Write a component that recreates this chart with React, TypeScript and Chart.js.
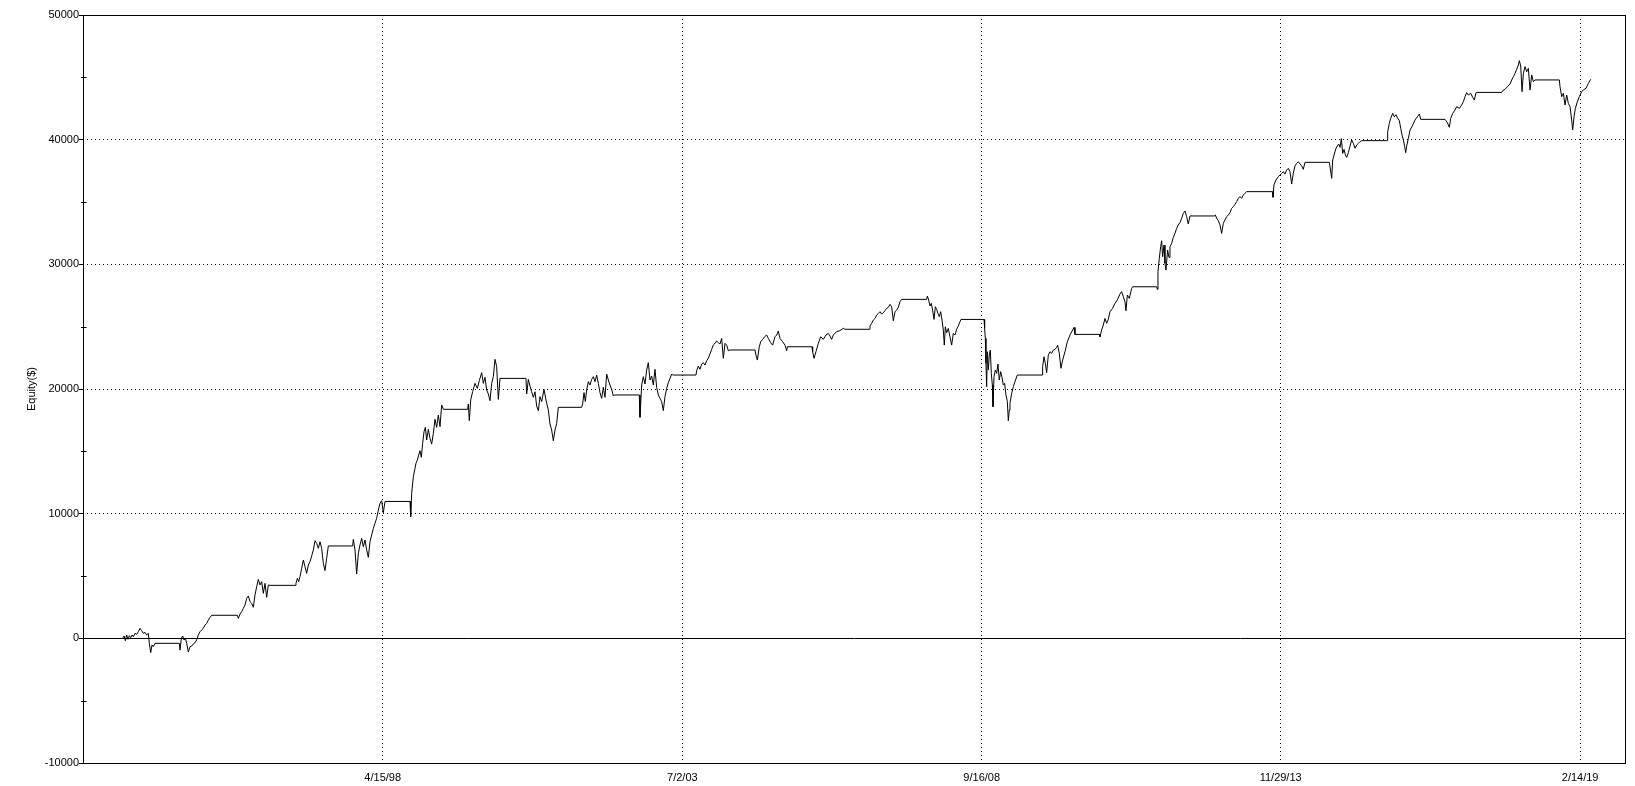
import { useEffect, useRef } from "react";
import { Chart, registerables } from "chart.js";

Chart.register(...registerables);

// X axis: decimal years, tick dates shown as m/d/yy
const xTickYears = [1998.285, 2003.499, 2008.708, 2013.91, 2019.121];
const xTickLabels = ["4/15/98", "7/2/03", "9/16/08", "11/29/13", "2/14/19"];
const xMin = 1993.07;
const xMax = 2019.919;

// Y axis
const yMin = -10000;
const yMax = 50000;
const yLabelStep = 10000;
const yMinorStep = 5000;
const yAxisTitle = "Equity($)";

// Equity curve: [decimal year, equity $]
const equityCurve: [number, number][] = [
  [1993.76, 0], [1993.784, 190], [1993.807, -190], [1993.83, 270], [1993.853, -80],
  [1993.876, 210], [1993.9, 50], [1993.923, 270], [1993.946, 130], [1993.975, 400],
  [1994.004, 320], [1994.033, 530], [1994.062, 800], [1994.091, 620], [1994.12, 400],
  [1994.149, 480], [1994.178, 270], [1994.207, 400], [1994.224, -400], [1994.248, -1150],
  [1994.271, -530], [1994.294, -670], [1994.323, -400], [1994.746, -400], [1994.758, -940],
  [1994.781, 0], [1994.804, 190], [1994.828, -130], [1994.851, 0], [1994.874, -400],
  [1994.903, -1100], [1994.932, -670], [1994.961, -620], [1994.99, -450], [1995.019, -350],
  [1995.048, -130], [1995.077, 270], [1995.106, 530], [1995.135, 670], [1995.164, 800],
  [1995.193, 1070], [1995.222, 1200], [1995.251, 1470], [1995.28, 1680], [1995.309, 1850],
  [1995.756, 1850], [1995.773, 1600], [1995.802, 1950], [1995.831, 2140], [1995.86, 2410],
  [1995.889, 2670], [1995.918, 3210], [1995.947, 3400], [1995.976, 2940], [1996.005, 2810],
  [1996.034, 2490], [1996.063, 3480], [1996.092, 4140], [1996.121, 4730], [1996.15, 4280],
  [1996.179, 4550], [1996.208, 3610], [1996.237, 4410], [1996.266, 3290], [1996.295, 4280],
  [1996.324, 4250], [1996.759, 4250], [1996.776, 4410], [1996.8, 4810], [1996.823, 4550],
  [1996.846, 4950], [1996.875, 5620], [1996.904, 6280], [1996.933, 5750], [1996.962, 5210],
  [1996.991, 5880], [1997.02, 6150], [1997.049, 6600], [1997.078, 7090], [1997.107, 7830],
  [1997.136, 7620], [1997.165, 7220], [1997.194, 7750], [1997.223, 7220], [1997.252, 6020],
  [1997.281, 5430], [1997.31, 6420], [1997.339, 7410], [1997.762, 7410], [1997.774, 7940],
  [1997.803, 7090], [1997.832, 5160], [1997.861, 6820], [1997.89, 7490], [1997.919, 8020],
  [1997.948, 7350], [1997.977, 7890], [1998.006, 7090], [1998.035, 6500], [1998.064, 7750],
  [1998.093, 8290], [1998.122, 8820], [1998.151, 9230], [1998.18, 9630], [1998.209, 10290],
  [1998.238, 10830], [1998.267, 11040], [1998.296, 10080], [1998.325, 10980], [1998.76, 10980],
  [1998.772, 9760], [1998.789, 11630], [1998.818, 12960], [1998.841, 13500], [1998.864, 14040],
  [1998.888, 14300], [1998.911, 14700], [1998.934, 15050], [1998.957, 14520], [1998.98, 15640],
  [1999.004, 16580], [1999.027, 16920], [1999.05, 15910], [1999.079, 16760], [1999.108, 16040],
  [1999.137, 15580], [1999.166, 16440], [1999.195, 17570], [1999.224, 16920], [1999.253, 17910],
  [1999.282, 16980], [1999.311, 18720], [1999.34, 18370], [1999.763, 18370], [1999.775, 18800],
  [1999.792, 17460], [1999.816, 19120], [1999.85, 19790], [1999.891, 20450], [1999.932, 20050],
  [1999.966, 20670], [2000.007, 21310], [2000.036, 20450], [2000.065, 20940], [2000.094, 19920],
  [2000.123, 19600], [2000.152, 19060], [2000.181, 20450], [2000.21, 20990], [2000.239, 22380],
  [2000.268, 21790], [2000.297, 19170], [2000.326, 20850], [2000.778, 20850], [2000.79, 19600],
  [2000.819, 20770], [2000.848, 20240], [2000.877, 19780], [2000.906, 19330], [2000.935, 19780],
  [2000.964, 18630], [2000.993, 18260], [2001.022, 19390], [2001.051, 18990], [2001.092, 19970],
  [2001.126, 19120], [2001.167, 18310], [2001.196, 17190], [2001.225, 16710], [2001.254, 15850],
  [2001.283, 16710], [2001.312, 17240], [2001.341, 18530], [2001.747, 18530], [2001.764, 18800],
  [2001.788, 19710], [2001.811, 18990], [2001.834, 19920], [2001.863, 20590], [2001.892, 20320],
  [2001.921, 20770], [2001.95, 20990], [2001.979, 20590], [2002.008, 21120], [2002.037, 20450],
  [2002.066, 19710], [2002.095, 19250], [2002.124, 20130], [2002.153, 19330], [2002.182, 21200],
  [2002.211, 20720], [2002.24, 20320], [2002.269, 19970], [2002.298, 19440], [2002.315, 19520],
  [2002.75, 19520], [2002.762, 17730], [2002.791, 20320], [2002.82, 20990], [2002.849, 20400],
  [2002.878, 21520], [2002.907, 22110], [2002.936, 20720], [2002.965, 21040], [2002.994, 20320],
  [2003.023, 21580], [2003.052, 20130], [2003.081, 19520], [2003.11, 19250], [2003.139, 18990],
  [2003.168, 18260], [2003.197, 19390], [2003.226, 20050], [2003.255, 20510], [2003.284, 20850],
  [2003.313, 21200], [2003.33, 21120], [2003.736, 21120], [2003.748, 21470], [2003.777, 21840],
  [2003.806, 21580], [2003.835, 22000], [2003.864, 22110], [2003.893, 21920], [2003.922, 22270],
  [2003.951, 22460], [2003.98, 22810], [2004.009, 23180], [2004.038, 23530], [2004.067, 23660],
  [2004.096, 23850], [2004.125, 23720], [2004.154, 23610], [2004.183, 24060], [2004.212, 22460],
  [2004.241, 23660], [2004.27, 23520], [2004.299, 23070], [2004.328, 23130], [2004.763, 23130],
  [2004.78, 22720], [2004.804, 22320], [2004.838, 23390], [2004.862, 23790], [2004.896, 23980],
  [2004.931, 24190], [2004.966, 24330], [2004.995, 24060], [2005.036, 23710], [2005.07, 23520],
  [2005.111, 24190], [2005.14, 24330], [2005.169, 24650], [2005.198, 24060], [2005.244, 23790],
  [2005.285, 23520], [2005.314, 23070], [2005.326, 23390], [2005.755, 23390], [2005.766, 22990],
  [2005.79, 22460], [2005.824, 22990], [2005.865, 23660], [2005.906, 24190], [2005.952, 23980],
  [2005.998, 24330], [2006.039, 24460], [2006.068, 24250], [2006.097, 23980], [2006.126, 24330],
  [2006.184, 24600], [2006.242, 24680], [2006.3, 24870], [2006.329, 24790], [2006.752, 24790],
  [2006.764, 25050], [2006.793, 25260], [2006.822, 25530], [2006.851, 25660], [2006.88, 25930],
  [2006.909, 26060], [2006.938, 26200], [2006.967, 26010], [2006.996, 26120], [2007.025, 26280],
  [2007.054, 26470], [2007.083, 26550], [2007.112, 26790], [2007.141, 26600], [2007.17, 25480],
  [2007.199, 26200], [2007.228, 26330], [2007.257, 26550], [2007.286, 27000], [2007.315, 27190],
  [2007.75, 27190], [2007.762, 27460], [2007.785, 27140], [2007.808, 26660], [2007.831, 26870],
  [2007.854, 26330], [2007.878, 25580], [2007.901, 26600], [2007.924, 26390], [2007.947, 26060],
  [2007.97, 25800], [2007.994, 26200], [2008.017, 25530], [2008.04, 24730], [2008.057, 23520],
  [2008.075, 24990], [2008.098, 24510], [2008.127, 24860], [2008.156, 24190], [2008.185, 23520],
  [2008.214, 24460], [2008.243, 24330], [2008.272, 24790], [2008.301, 25050], [2008.33, 25400],
  [2008.347, 25580], [2008.748, 25580], [2008.759, 24860], [2008.771, 24060], [2008.782, 22060],
  [2008.794, 20190], [2008.806, 22990], [2008.823, 21520], [2008.84, 22720], [2008.858, 23120],
  [2008.875, 21260], [2008.893, 20320], [2008.904, 18580], [2008.922, 20990], [2008.945, 21520],
  [2008.968, 21260], [2008.991, 22000], [2009.014, 20720], [2009.038, 21390], [2009.061, 20930],
  [2009.084, 20320], [2009.107, 20450], [2009.13, 19520], [2009.154, 18990], [2009.171, 17450],
  [2009.188, 18310], [2009.2, 18850], [2009.229, 19650], [2009.258, 20180], [2009.287, 20590],
  [2009.328, 21120], [2009.763, 21120], [2009.768, 21790], [2009.792, 22590], [2009.815, 22050],
  [2009.838, 21310], [2009.867, 22720], [2009.896, 22990], [2009.925, 22860], [2009.954, 23120],
  [2009.983, 23180], [2010.012, 23340], [2010.029, 23520], [2010.058, 22860], [2010.087, 21660],
  [2010.116, 22320], [2010.157, 22990], [2010.198, 23790], [2010.244, 24330], [2010.29, 24730],
  [2010.314, 24940], [2010.331, 24380], [2010.754, 24380], [2010.766, 24190], [2010.795, 24730],
  [2010.824, 25130], [2010.853, 25660], [2010.882, 25270], [2010.911, 25590], [2010.94, 26200],
  [2010.986, 26470], [2011.027, 26870], [2011.068, 27140], [2011.114, 27620], [2011.143, 27810],
  [2011.172, 27400], [2011.201, 27000], [2011.218, 26280], [2011.242, 27540], [2011.276, 27270],
  [2011.317, 28070], [2011.334, 28200], [2011.752, 28200], [2011.764, 27990], [2011.775, 29410],
  [2011.798, 30480], [2011.822, 31410], [2011.839, 31890], [2011.856, 30610], [2011.88, 31540],
  [2011.897, 30080], [2011.914, 29540], [2011.943, 31140], [2011.967, 30550], [2011.984, 31410],
  [2012.013, 31680], [2012.042, 32160], [2012.071, 32480], [2012.1, 32890], [2012.129, 33160],
  [2012.158, 33340], [2012.187, 33690], [2012.216, 34090], [2012.245, 34280], [2012.274, 33820],
  [2012.303, 33240], [2012.332, 33880], [2012.755, 33880], [2012.773, 33960], [2012.796, 33690],
  [2012.825, 33500], [2012.854, 33160], [2012.883, 32480], [2012.912, 33290], [2012.941, 33560],
  [2012.97, 33820], [2012.999, 33960], [2013.028, 34150], [2013.057, 34490], [2013.086, 34630],
  [2013.115, 34810], [2013.144, 35030], [2013.173, 35290], [2013.202, 35430], [2013.231, 35290],
  [2013.26, 35560], [2013.289, 35700], [2013.318, 35830], [2013.77, 35830], [2013.776, 35380],
  [2013.794, 36370], [2013.828, 36760], [2013.869, 37030], [2013.898, 37160], [2013.927, 37300],
  [2013.956, 37430], [2013.985, 37240], [2014.014, 37560], [2014.043, 37700], [2014.072, 37430],
  [2014.101, 36440], [2014.13, 37300], [2014.159, 37890], [2014.188, 38100], [2014.217, 38230],
  [2014.246, 38050], [2014.275, 37890], [2014.304, 37620], [2014.333, 38180], [2014.757, 38180],
  [2014.769, 37830], [2014.798, 36900], [2014.815, 38370], [2014.839, 38770], [2014.873, 39310],
  [2014.897, 39490], [2014.92, 39650], [2014.943, 39380], [2014.966, 40080], [2014.989, 38900],
  [2015.013, 39220], [2015.036, 38770], [2015.059, 38580], [2015.088, 38960], [2015.117, 39490],
  [2015.146, 39970], [2015.175, 39700], [2015.204, 39310], [2015.233, 39570], [2015.262, 39700],
  [2015.291, 39840], [2015.32, 39920], [2015.767, 39920], [2015.772, 40640], [2015.801, 41310],
  [2015.825, 41710], [2015.859, 42110], [2015.888, 41840], [2015.917, 42000], [2015.946, 41710],
  [2015.975, 41520], [2015.999, 40910], [2016.022, 40370], [2016.045, 39970], [2016.068, 39440],
  [2016.086, 38960], [2016.103, 39490], [2016.132, 40100], [2016.161, 40770], [2016.207, 41170],
  [2016.248, 41580], [2016.289, 41840], [2016.323, 42060], [2016.347, 41630], [2016.77, 41630],
  [2016.787, 41520], [2016.811, 41360], [2016.845, 40990], [2016.869, 41710], [2016.903, 42110],
  [2016.944, 42380], [2016.973, 42650], [2017.019, 42510], [2017.06, 42780], [2017.089, 43050],
  [2017.118, 43450], [2017.147, 43770], [2017.176, 43580], [2017.217, 43720], [2017.251, 43400],
  [2017.28, 43180], [2017.309, 43770], [2017.321, 43790], [2017.756, 43790], [2017.773, 43930],
  [2017.814, 44040], [2017.855, 44250], [2017.901, 44460], [2017.93, 44790], [2017.959, 45050],
  [2017.988, 45320], [2018.017, 45640], [2018.046, 45990], [2018.063, 46340], [2018.087, 45910],
  [2018.11, 43850], [2018.133, 45320], [2018.162, 45860], [2018.191, 45450], [2018.22, 45720],
  [2018.249, 43990], [2018.278, 45190], [2018.307, 44650], [2018.336, 44790], [2018.759, 44790],
  [2018.771, 44250], [2018.8, 43450], [2018.829, 43720], [2018.858, 42780], [2018.887, 43580],
  [2018.916, 42910], [2018.945, 42650], [2018.974, 41580], [2018.991, 40780], [2019.015, 41840],
  [2019.038, 42510], [2019.073, 43050], [2019.107, 43450], [2019.148, 43850], [2019.177, 43990],
  [2019.223, 44120], [2019.264, 44520], [2019.305, 44840],
];

const FONT = { family: "'Liberation Sans', Arial, sans-serif", size: 11 };

export default function App() {
  const ref = useRef<HTMLCanvasElement>(null);

  useEffect(() => {
    document.body.style.margin = "0";
    const canvas = ref.current;
    if (!canvas) return;

    const decorPlugin = {
      id: "decor",
      beforeDatasetsDraw(chart: any) {
        const { ctx, chartArea: a, scales } = chart;
        const y0 = Math.round(scales.y.getPixelForValue(0)) + 0.5;
        ctx.save();
        ctx.strokeStyle = "#000";
        ctx.lineWidth = 1;
        ctx.beginPath();
        ctx.moveTo(a.left, y0);
        ctx.lineTo(a.right, y0);
        ctx.stroke();
        ctx.restore();
      },
      afterDraw(chart: any) {
        const { ctx, chartArea: a, scales } = chart;
        ctx.save();
        ctx.strokeStyle = "#000";
        ctx.lineWidth = 1;
        const l = Math.round(a.left) + 0.5;
        const t = Math.round(a.top) + 0.5;
        const r = Math.round(a.right) - 0.5;
        const b = Math.round(a.bottom) + 0.5;
        ctx.strokeRect(l, t, r - l, b - t);
        // minor ticks crossing the left axis
        ctx.beginPath();
        for (const tk of scales.y.ticks) {
          if (tk.value % yLabelStep !== 0) {
            const py = Math.round(scales.y.getPixelForValue(tk.value)) + 0.5;
            ctx.moveTo(l - 2.5, py);
            ctx.lineTo(l + 3, py);
          }
        }
        ctx.stroke();
        ctx.restore();
      },
    };

    const chart = new Chart(canvas, {
      type: "line",
      data: {
        datasets: [
          {
            data: equityCurve.map(([x, y]) => ({ x, y })),
            borderColor: "#000",
            borderWidth: 1,
            pointRadius: 0,
            tension: 0,
            fill: false,
          },
        ],
      },
      options: {
        animation: false,
        responsive: false,
        devicePixelRatio: 1,
        events: [],
        layout: { padding: { top: 15, right: 9, left: 0, bottom: 0 } },
        plugins: { legend: { display: false }, tooltip: { enabled: false } },
        scales: {
          x: {
            type: "linear",
            min: xMin,
            max: xMax,
            afterBuildTicks: (s: any) => {
              s.ticks = xTickYears.map((v) => ({ value: v }));
            },
            afterFit: (s: any) => {
              s.height = 23;
            },
            ticks: {
              autoSkip: false,
              maxRotation: 0,
              padding: 8,
              color: "#000",
              font: FONT,
              callback: (_v: any, i: number) => xTickLabels[i],
            },
            grid: { color: "#000", lineWidth: 1, drawTicks: false },
            border: { display: false, dash: [1, 3] },
          },
          y: {
            type: "linear",
            min: yMin,
            max: yMax,
            afterBuildTicks: (s: any) => {
              const arr: { value: number }[] = [];
              for (let v = yMin; v <= yMax; v += yMinorStep) arr.push({ value: v });
              s.ticks = arr;
            },
            afterFit: (s: any) => {
              s.width = 83;
            },
            ticks: {
              autoSkip: false,
              padding: 0,
              color: "#000",
              font: FONT,
              callback: (v: any) => (Number(v) % yLabelStep === 0 ? String(v) : ""),
            },
            grid: {
              lineWidth: 1,
              tickLength: 4,
              color: (c: any) =>
                c.tick && c.tick.value % yLabelStep === 0 && c.tick.value !== 0
                  ? "#000"
                  : "rgba(0,0,0,0)",
              tickColor: (c: any) =>
                c.tick && c.tick.value % yLabelStep === 0 ? "#000" : "rgba(0,0,0,0)",
            },
            border: { display: false, dash: [1, 3] },
            title: {
              display: true,
              text: yAxisTitle,
              color: "#000",
              font: FONT,
              padding: { top: 25, bottom: 0 },
            },
          },
        },
      },
      plugins: [decorPlugin],
    } as any);

    return () => chart.destroy();
  }, []);

  return (
    <div style={{ width: 1635, height: 786 }}>
      <canvas ref={ref} width={1635} height={786} style={{ display: "block" }} />
    </div>
  );
}
